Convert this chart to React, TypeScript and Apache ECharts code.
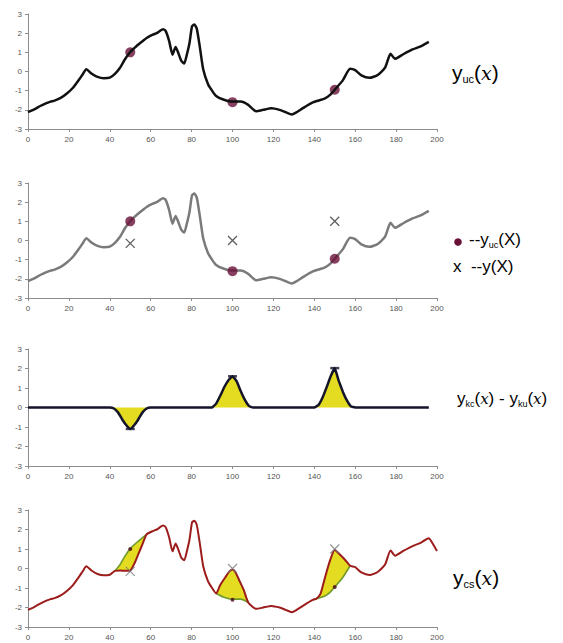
import React, { useEffect, useRef } from "react";
import * as echarts from "echarts";

// x range / y range of each panel
const X_RANGE = [0, 200];
const Y_RANGE = [-3, 3];

// y_uc(x): the unconditional simulated curve
const yucPoints: [number, number][] = [
  [0, -2.12], [3, -1.98], [6, -1.8], [9, -1.65], [11, -1.57], [13, -1.52], [16, -1.38],
  [19, -1.15], [22, -0.85], [25, -0.42], [27, -0.1], [28.5, 0.12], [31, -0.1], [34, -0.28],
  [37, -0.35], [40, -0.32], [42.5, -0.12], [45, 0.2], [47.5, 0.65], [50, 1.02], [53, 1.32],
  [56, 1.58], [58, 1.75], [61, 1.92], [63, 2.0], [66, 2.2], [67.3, 2.12], [69, 1.6],
  [70.7, 0.88], [72.2, 1.28], [73.5, 0.97], [75, 0.55], [76.4, 0.42], [77.6, 0.85],
  [79, 1.5], [80.2, 2.36], [81.3, 2.45], [82.5, 2.25], [84, 1.3], [85.7, 0.1], [88, -0.65],
  [90, -1.0], [92, -1.28], [95.5, -1.46], [100, -1.57], [104, -1.57], [107.7, -1.74],
  [111.5, -2.07], [115, -2.0], [119, -1.92], [123, -2.0], [126, -2.12], [129, -2.24],
  [131, -2.15], [134.6, -1.9], [139.5, -1.6], [145, -1.42], [147.7, -1.22], [150, -0.95],
  [154, -0.45], [157.5, 0.14], [160, 0.07], [163, -0.2], [167, -0.33], [171, -0.18],
  [174.6, 0.2], [177.3, 0.92], [179.5, 0.66], [183.5, 0.9], [188, 1.15], [191.7, 1.3],
  [196, 1.55],
];

// extra tail of the conditional curve y_cs(x)
const csTail: [number, number][] = [[197.5, 1.35], [200, 0.9]];

// y_uc at the data locations, and the observed data y(x)
const ucMarks: [number, number][] = [[50, 1.0], [100, -1.6], [150, -0.95]];
const dataMarks: [number, number][] = [[50, -0.15], [100, 0.0], [150, 1.0]];

// kriging difference y_kc(x) - y_ku(x)
const diffCurve: [number, number][] = [
  [0, 0], [40, 0], [42, -0.05], [44, -0.25], [46, -0.6], [48, -0.9], [50, -1.1], [52, -0.9],
  [54, -0.6], [56, -0.25], [58, -0.05], [60, 0], [90, 0], [92, 0.2], [94, 0.6], [96, 1.05],
  [98, 1.4], [100, 1.6], [102, 1.35], [104, 0.85], [106, 0.4], [108, 0.08], [110, 0],
  [140, 0], [142, 0.12], [144, 0.5], [146, 1.03], [148, 1.6], [150, 2.02], [152, 1.35],
  [154, 0.8], [156, 0.35], [158, 0.05], [160, 0], [196, 0],
];
const diffCaps: [number, number][] = [[50, -1.1], [100, 1.6], [150, 2.02]];

// conditioned curve pieces replacing y_uc near the data
const csSegA: [number, number][] = [
  [42.5, -0.12], [45, -0.1], [48, -0.12], [50, -0.1], [52, 0.25], [54, 0.75], [56, 1.25], [58, 1.75],
];
const csSegB: [number, number][] = [
  [92, -1.28], [94, -0.85], [96.5, -0.45], [98.5, -0.15], [100, -0.05], [101.5, -0.2],
  [103.5, -0.65], [105.5, -1.1], [107.7, -1.74],
];
const csSegC: [number, number][] = [
  [139.5, -1.6], [141, -1.55], [143, -1.3], [145, -0.55], [147.5, 0.35], [150, 0.95],
  [152.5, 0.72], [155, 0.45], [157.5, 0.14],
];

const segs = [csSegA, csSegB, csSegC];
const inSeg = (x: number, s: [number, number][]) => x >= s[0][0] && x <= s[s.length - 1][0];
const greenSegs = segs.map((s) => yucPoints.filter((p) => inSeg(p[0], s)));
const csCurve: [number, number][] = yucPoints
  .filter((p) => !segs.some((s) => inSeg(p[0], s)))
  .concat(...segs, csTail)
  .sort((a, b) => a[0] - b[0]);
const polygons = segs.map((s, i) => s.concat(greenSegs[i].slice().reverse()));

const GRIDS = [
  { left: 28, top: 14, width: 409, height: 115 },
  { left: 28, top: 183, width: 409, height: 115 },
  { left: 28, top: 349, width: 409, height: 117 },
  { left: 28, top: 510, width: 409, height: 117 },
];

const AXIS_COLOR = "#8c8c8c";
const LABEL_FONT = "'Liberation Sans', Arial, sans-serif";
const PURPLE = "#6a1038";
const RED = "#9c1c1c";
const YELLOW = "#e4dc20";
const X_PATH = "path://M0,0L10,10M10,0L0,10";

export default function App() {
  const ref = useRef<HTMLDivElement>(null);
  useEffect(() => {
    if (!ref.current) return;
    const chart = echarts.init(ref.current, undefined, { renderer: "svg" });
    const xAxes = GRIDS.map((_, i) => ({
      type: "value",
      gridIndex: i,
      min: X_RANGE[0],
      max: X_RANGE[1],
      interval: 20,
      axisLine: { show: true, onZero: false, lineStyle: { color: AXIS_COLOR, width: 1 } },
      axisTick: { show: true, length: 3, lineStyle: { color: AXIS_COLOR } },
      axisLabel: { fontSize: 8, color: "#555", fontFamily: LABEL_FONT, margin: 6 },
      splitLine: { show: false },
    }));
    const yAxes = GRIDS.map((_, i) => ({
      type: "value",
      gridIndex: i,
      min: Y_RANGE[0],
      max: Y_RANGE[1],
      interval: 1,
      axisLine: { show: true, lineStyle: { color: AXIS_COLOR, width: 1 } },
      axisTick: { show: true, length: 3, lineStyle: { color: AXIS_COLOR } },
      axisLabel: { fontSize: 8, color: "#555", fontFamily: LABEL_FONT, margin: 6 },
      splitLine: { show: false },
    }));

    const lineBase = { type: "line", showSymbol: false, symbol: "none", silent: true, smooth: 0.2 };
    const xMarkStyle = (color: string, w: number) => ({
      color: "rgba(0,0,0,0)",
      borderColor: color,
      borderWidth: w,
    });

    const mainFont = "'Liberation Sans', Arial, sans-serif";
    const richFor = (size: number, color: string) => ({
      m: { fontSize: size, fontFamily: mainFont, color, lineHeight: size + 4 },
      s: { fontSize: Math.round(size * 0.5), fontFamily: mainFont, color, verticalAlign: "bottom", lineHeight: size + 4, padding: [0, 0, 1, 0] },
      i: { fontSize: size - 2, fontFamily: "'DejaVu Serif', serif", fontStyle: "italic", color, lineHeight: size + 4 },
    });

    const option: any = {
      animation: false,
      backgroundColor: "#fff",
      grid: GRIDS,
      xAxis: xAxes,
      yAxis: yAxes,
      series: [
        { ...lineBase, xAxisIndex: 0, yAxisIndex: 0, data: yucPoints, lineStyle: { color: "#111", width: 2.5 } },
        { type: "scatter", xAxisIndex: 0, yAxisIndex: 0, data: ucMarks, symbolSize: 10, itemStyle: { color: PURPLE }, silent: true },
        { ...lineBase, xAxisIndex: 1, yAxisIndex: 1, data: yucPoints, lineStyle: { color: "#7a7a7a", width: 2.5 } },
        { type: "scatter", xAxisIndex: 1, yAxisIndex: 1, data: ucMarks, symbolSize: 10, itemStyle: { color: PURPLE }, silent: true, z: 4 },
        { type: "scatter", xAxisIndex: 1, yAxisIndex: 1, data: dataMarks, symbol: X_PATH, symbolSize: 9, itemStyle: xMarkStyle("#333", 1.3), silent: true },
        {
          type: "line", showSymbol: false, symbol: "none", silent: true, smooth: 0.08,
          xAxisIndex: 2, yAxisIndex: 2, data: diffCurve,
          lineStyle: { color: "#14142a", width: 2.5 },
          areaStyle: { color: YELLOW, opacity: 1 },
        },
        { type: "scatter", xAxisIndex: 2, yAxisIndex: 2, data: diffCaps, symbol: "rect", symbolSize: [9, 2.5], itemStyle: { color: "#14142a" }, silent: true },
        {
          type: "custom", xAxisIndex: 3, yAxisIndex: 3, silent: true, z: 1,
          data: [[50, 0], [100, 0], [150, 0]],
          renderItem: (params: any, api: any) => ({
            type: "polygon",
            shape: { points: polygons[params.dataIndex].map((p) => api.coord(p)) },
            style: { fill: YELLOW, stroke: "none" },
          }),
        },
        ...greenSegs.map((g) => ({ ...lineBase, xAxisIndex: 3, yAxisIndex: 3, z: 2, data: g, lineStyle: { color: "#6f9a2c", width: 1.6 } })),
        { ...lineBase, xAxisIndex: 3, yAxisIndex: 3, z: 3, data: csCurve, lineStyle: { color: RED, width: 2 } },
        { type: "scatter", xAxisIndex: 3, yAxisIndex: 3, z: 4, data: ucMarks, symbolSize: 4, itemStyle: { color: "#4a0a1a" }, silent: true },
        { type: "scatter", xAxisIndex: 3, yAxisIndex: 3, z: 4, data: dataMarks, symbol: X_PATH, symbolSize: 9, itemStyle: xMarkStyle("#777", 1.1), silent: true },
      ],
      graphic: [
        {
          type: "text", left: 452, top: 62,
          style: { text: "{m|y}{s|uc}{m|(}{i|x}{m|)}", rich: richFor(21, "#222") },
        },
        { type: "circle", shape: { cx: 458, cy: 242, r: 3.8 }, style: { fill: PURPLE } },
        {
          type: "text", left: 469, top: 231,
          style: { text: "{m|--y}{s|uc}{m|(X)}", rich: richFor(17, "#222") },
        },
        {
          type: "text", left: 453, top: 258,
          style: { text: "{m|x  --y(X)}", rich: richFor(17, "#222") },
        },
        {
          type: "text", left: 457, top: 390,
          style: { text: "{m|y}{s|kc}{m|(}{i|x}{m|) - y}{s|ku}{m|(}{i|x}{m|)}", rich: richFor(17, "#222") },
        },
        {
          type: "text", left: 453, top: 567,
          style: { text: "{m|y}{s|cs}{m|(}{i|x}{m|)}", rich: richFor(21, "#a0222a") },
        },
      ],
    };
    chart.setOption(option);
    return () => chart.dispose();
  }, []);
  return (
    <div
      ref={ref}
      style={{ position: "fixed", left: 0, top: 0, width: 563, height: 643, background: "#fff" }}
    />
  );
}
